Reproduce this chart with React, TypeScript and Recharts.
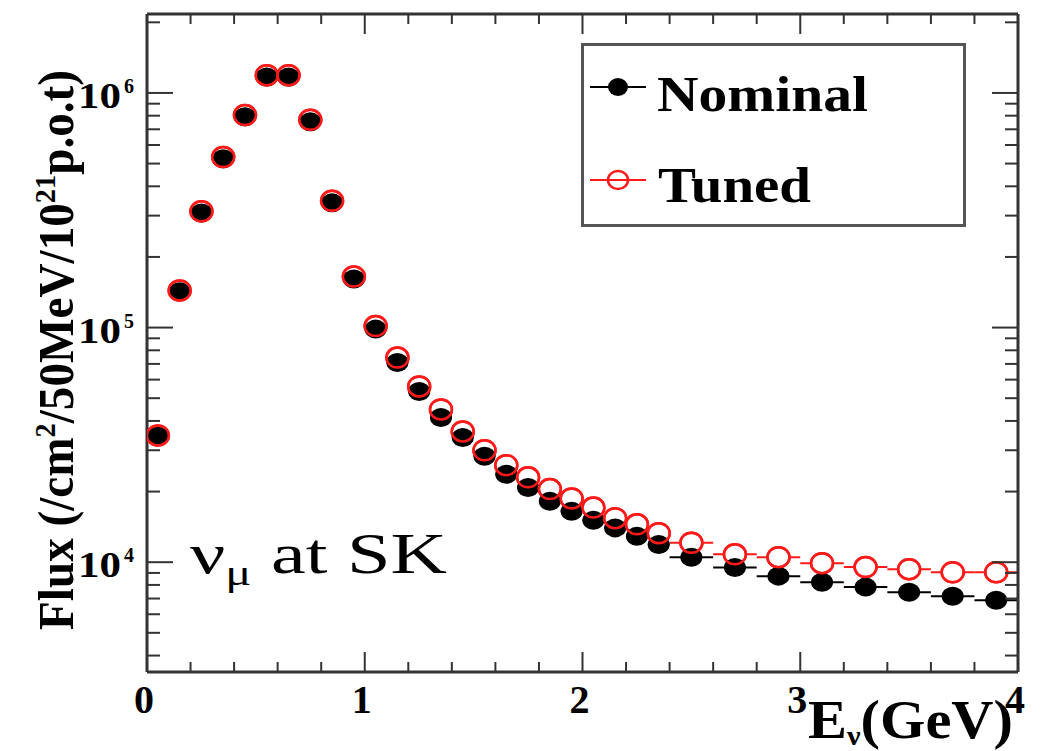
import { ComposedChart, Scatter, XAxis, YAxis, ErrorBar, Legend, Customized } from 'recharts';

// bin centres (GeV) and half widths
const energy = [
  0.05, 0.15, 0.25, 0.35, 0.45, 0.55, 0.65, 0.75, 0.85, 0.95, 1.05, 1.15, 1.25, 1.35, 1.45, 1.55,
  1.65, 1.75, 1.85, 1.95, 2.05, 2.15, 2.25, 2.35, 2.5, 2.7, 2.9, 3.1, 3.3, 3.5, 3.7, 3.9,
];
const halfWidth = [
  0.05, 0.05, 0.05, 0.05, 0.05, 0.05, 0.05, 0.05, 0.05, 0.05, 0.05, 0.05, 0.05, 0.05, 0.05, 0.05,
  0.05, 0.05, 0.05, 0.05, 0.05, 0.05, 0.05, 0.05, 0.1, 0.1, 0.1, 0.1, 0.1, 0.1, 0.1, 0.1,
];
const nominal = [
  34400, 142000, 308000, 524000, 791000, 1170000, 1170000, 753000, 340000, 161000, 98500, 71000,
  53400, 41400, 34000, 28300, 23700, 20800, 18200, 16500, 15100, 14000, 12900, 11900, 10500, 9500,
  8720, 8220, 7830, 7450, 7160, 6880,
];
const tuned = [
  34700, 144000, 313000, 533000, 805000, 1190000, 1190000, 768000, 347000, 165000, 101500, 74500,
  56100, 44800, 36100, 30000, 25900, 23000, 20500, 18700, 17100, 15400, 14500, 13300, 12100, 10800,
  10500, 9900, 9530, 9340, 9060, 9060,
];

const xTicks = [0, 0.2, 0.4, 0.6, 0.8, 1, 1.2, 1.4, 1.6, 1.8, 2, 2.2, 2.4, 2.6, 2.8, 3, 3.2, 3.4, 3.6, 3.8, 4];
const yMajor = [10000, 100000, 1000000];
const yMajorLabel = ['4', '5', '6'];
const yTicks = [
  4000, 5000, 6000, 7000, 8000, 9000, 10000, 20000, 30000, 40000, 50000, 60000, 70000, 80000, 90000,
  100000, 200000, 300000, 400000, 500000, 600000, 700000, 800000, 900000, 1000000, 2000000,
];

const nominalData = energy.map((e, i) => ({ e, flux: nominal[i], xerr: halfWidth[i] }));
const tunedData = energy.map((e, i) => ({ e, flux: tuned[i], xerr: halfWidth[i] }));

const SERIF = '"Liberation Serif", "Times New Roman", serif';
const AXIS = '#333';
const RED = '#ff1a1a';

const BottomTick = ({ x, y, payload }: any) => {
  const major = Number.isInteger(payload.value);
  return (
    <g>
      <line x1={x} x2={x} y1={y} y2={y - (major ? 20 : 10)} stroke={AXIS} strokeWidth={2} />
      {major && (
        <text x={x - 3} y={y + 41} textAnchor="middle" fontFamily={SERIF} fontWeight="bold" fontSize={40} fill="#000">
          {payload.value}
        </text>
      )}
    </g>
  );
};

const TopTick = ({ x, y, payload }: any) => {
  const major = Number.isInteger(payload.value);
  return <line x1={x} x2={x} y1={y} y2={y + (major ? 20 : 10)} stroke={AXIS} strokeWidth={2} />;
};

const LeftTick = ({ x, y, payload }: any) => {
  const idx = yMajor.indexOf(payload.value);
  const major = idx >= 0;
  return (
    <g>
      <line x1={x} x2={x + (major ? 26 : 13)} y1={y} y2={y} stroke={AXIS} strokeWidth={2} />
      {major && (
        <g fontFamily={SERIF} fontWeight="bold" fill="#000">
          <text x={121} y={y + 15} textAnchor="end" fontSize={35} textLength={43} lengthAdjust="spacingAndGlyphs">10</text>
          <text x={124} y={y} fontSize={20}>{yMajorLabel[idx]}</text>
        </g>
      )}
    </g>
  );
};

const RightTick = ({ x, y, payload }: any) => {
  const major = yMajor.includes(payload.value);
  return <line x1={x} x2={x - (major ? 26 : 13)} y1={y} y2={y} stroke={AXIS} strokeWidth={2} />;
};

const Labels = () => (
  <g fill="#000">
    <text
      transform="translate(73,350) rotate(-90)"
      textAnchor="middle"
      fontFamily={SERIF}
      fontWeight="bold"
      fontSize={50}
      textLength={560}
      lengthAdjust="spacingAndGlyphs"
    >
      Flux (/cm<tspan dy={-18} fontSize={30}>2</tspan>
      <tspan dy={18}>/50MeV/10</tspan>
      <tspan dy={-18} fontSize={30}>21</tspan>
      <tspan dy={18}>p.o.t)</tspan>
    </text>
    <text x={808} y={738} fontFamily={SERIF} fontWeight="bold" fontSize={54} textLength={205} lengthAdjust="spacingAndGlyphs">
      E<tspan dy={7} fontSize={28}>ν</tspan>
      <tspan dy={-7}>(GeV)</tspan>
    </text>
    <text
      x={190}
      y={573}
      fontFamily='"Times New Roman", "Liberation Serif", "DejaVu Serif", serif'
      fontWeight="normal"
      fontSize={58}
      textLength={257}
      lengthAdjust="spacingAndGlyphs"
    >
      ν<tspan dy={12} fontSize={36}>μ</tspan>
      <tspan dy={-12}> at SK</tspan>
    </text>
  </g>
);

const LegendBox = () => (
  <svg width={385} height={184} style={{ display: 'block' }}>
    <rect x={1.5} y={1.5} width={382} height={181} fill="#fff" stroke="#555" strokeWidth={3} />
    <line x1={9} x2={65} y1={44} y2={44} stroke="#000" strokeWidth={2} />
    <ellipse cx={37} cy={44} rx={10} ry={9} fill="#000" />
    <text x={76} y={68} fontFamily={SERIF} fontWeight="bold" fontSize={50} textLength={211} lengthAdjust="spacingAndGlyphs">
      Nominal
    </text>
    <line x1={9} x2={65} y1={137} y2={137} stroke={RED} strokeWidth={2} />
    <ellipse cx={37} cy={137} rx={10} ry={9} fill="none" stroke={RED} strokeWidth={2.5} />
    <text x={77} y={159} fontFamily={SERIF} fontWeight="bold" fontSize={50} textLength={153} lengthAdjust="spacingAndGlyphs">
      Tuned
    </text>
  </svg>
);

const dot = (props: any) => <ellipse cx={props.cx} cy={props.cy} rx={11} ry={9.5} fill="#000" />;
const ringFilled = (props: any) => (
  <ellipse cx={props.cx} cy={props.cy} rx={11} ry={10} fill="#fff" stroke={RED} strokeWidth={2.5} />
);
const ring = (props: any) => (
  <ellipse cx={props.cx} cy={props.cy} rx={11} ry={10} fill="none" stroke={RED} strokeWidth={2.5} />
);

export default function App() {
  const axisLine = { stroke: AXIS, strokeWidth: 3 };
  return (
    <div style={{ position: 'absolute', left: 0, top: 0, background: '#fff' }}>
      <ComposedChart width={1044} height={751} margin={{ top: 0, right: 0, bottom: 0, left: 0 }}>
        <XAxis
          xAxisId="b"
          type="number"
          dataKey="e"
          domain={[0, 4]}
          ticks={xTicks}
          interval={0}
          height={79}
          tickSize={0}
          tickMargin={0}
          tickLine={false}
          axisLine={axisLine}
          tick={(p: any) => <BottomTick {...p} />}
          allowDataOverflow
        />
        <XAxis
          xAxisId="t"
          orientation="top"
          type="number"
          dataKey="e"
          domain={[0, 4]}
          ticks={xTicks}
          interval={0}
          height={14}
          tickSize={0}
          tickMargin={0}
          tickLine={false}
          axisLine={axisLine}
          tick={(p: any) => <TopTick {...p} />}
          allowDataOverflow
        />
        <YAxis
          yAxisId="l"
          type="number"
          dataKey="flux"
          scale="log"
          domain={[3404, 2170000]}
          ticks={yTicks}
          interval={0}
          width={147}
          tickSize={0}
          tickMargin={0}
          tickLine={false}
          axisLine={axisLine}
          tick={(p: any) => <LeftTick {...p} />}
          allowDataOverflow
        />
        <YAxis
          yAxisId="r"
          orientation="right"
          type="number"
          dataKey="flux"
          scale="log"
          domain={[3404, 2170000]}
          ticks={yTicks}
          interval={0}
          width={26}
          tickSize={0}
          tickMargin={0}
          tickLine={false}
          axisLine={axisLine}
          tick={(p: any) => <RightTick {...p} />}
          allowDataOverflow
        />
        <Scatter
          name="Tuned bars"
          xAxisId="b"
          yAxisId="l"
          data={tunedData}
          shape={ringFilled}
          legendType="none"
          isAnimationActive={false}
        >
          <ErrorBar dataKey="xerr" direction="x" width={0} stroke={RED} strokeWidth={2} isAnimationActive={false} />
        </Scatter>
        <Scatter name="Nominal" xAxisId="b" yAxisId="l" data={nominalData} shape={dot} isAnimationActive={false}>
          <ErrorBar dataKey="xerr" direction="x" width={0} stroke="#000" strokeWidth={2} isAnimationActive={false} />
        </Scatter>
        <Scatter name="Tuned" xAxisId="b" yAxisId="l" data={tunedData} shape={ring} isAnimationActive={false} />
        <Legend
          layout="vertical"
          align="center"
          verticalAlign="middle"
          content={() => <LegendBox />}
          wrapperStyle={{ position: 'absolute', left: 581, top: 43, width: 385, height: 184 }}
        />
        <Customized component={Labels} />
      </ComposedChart>
    </div>
  );
}
